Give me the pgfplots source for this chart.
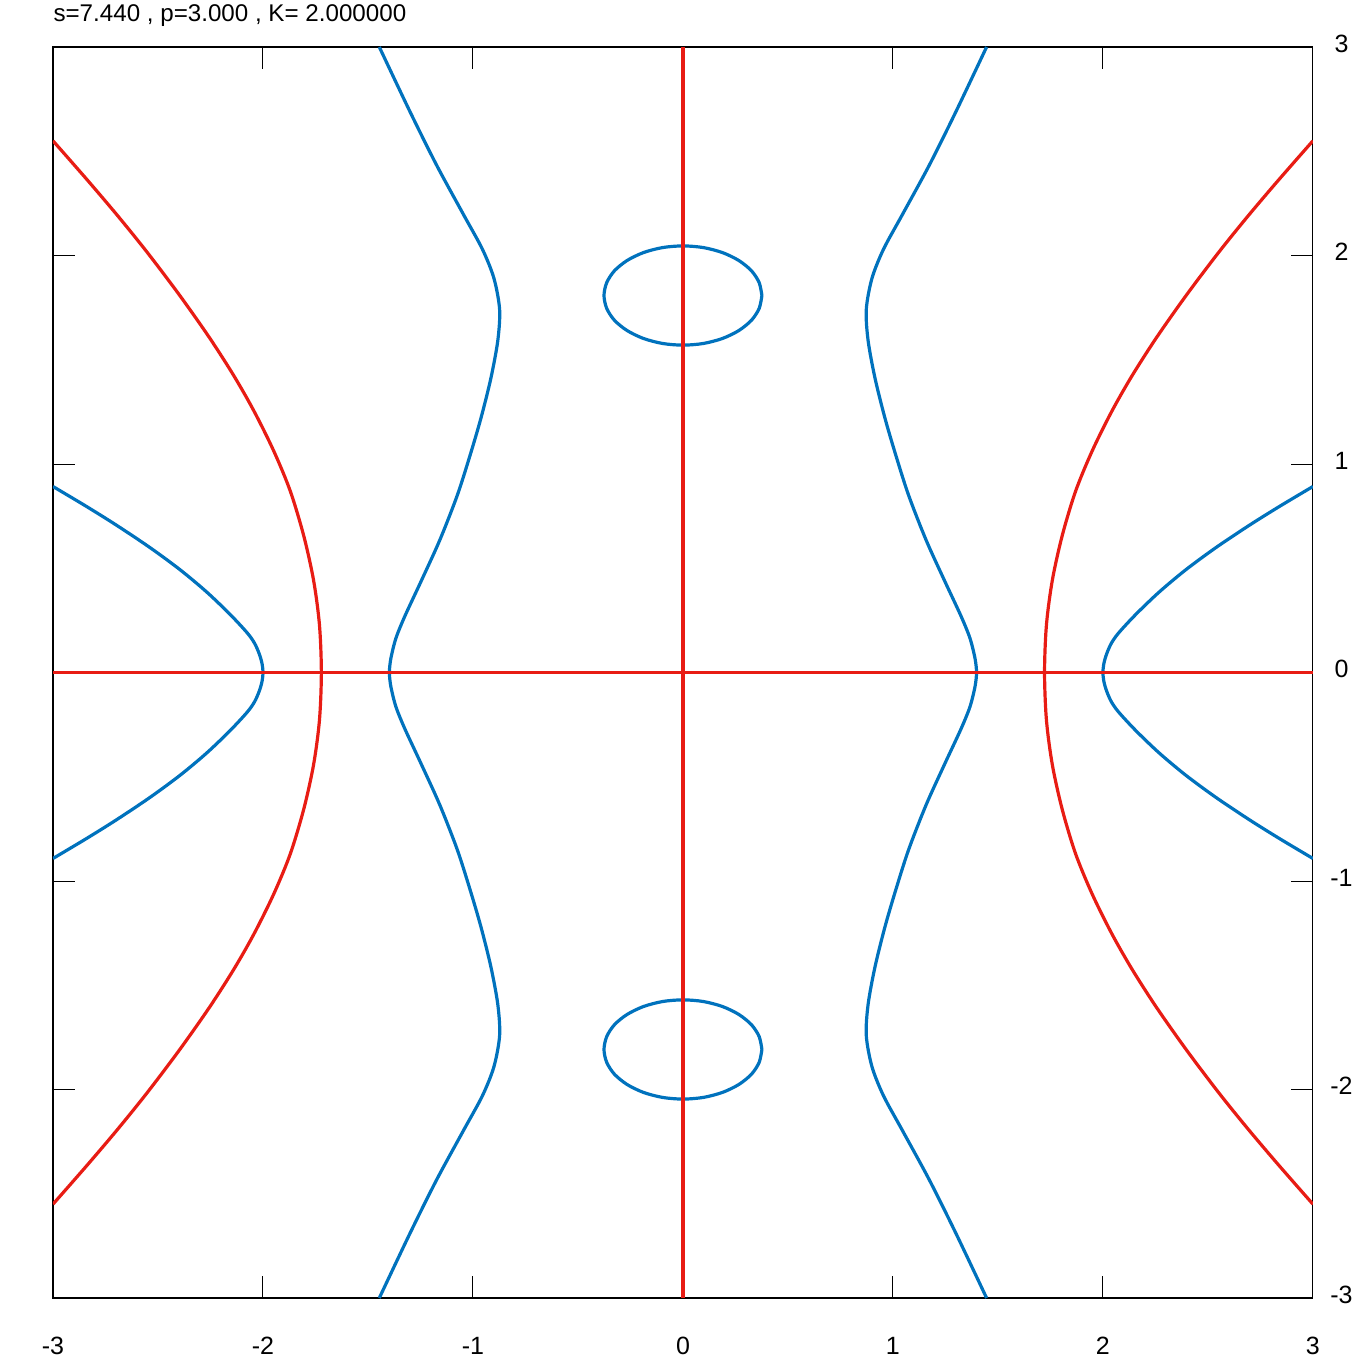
\documentclass[border=0pt]{standalone}
\usepackage{fontspec}
\setmainfont{Liberation Sans}
\usepackage{pgfplots}
\pgfplotsset{compat=1.18}
\definecolor{cblue}{RGB}{0,114,189}
\definecolor{cred}{RGB}{232,28,20}

\begin{document}
\begin{tikzpicture}
\begin{axis}[
    scale only axis,
    width=453.6pt, height=450.4pt,
    xmin=-3, xmax=3, ymin=-3, ymax=3,
    xtick={-3,-2,-1,0,1,2,3},
    ytick={-3,-2,-1,0,1,2,3},
    xticklabels={-3,-2,-1,0,1,2,3},
    yticklabels={-3,-2,-1,0,1,2,3},
    yticklabel pos=right,
    ytick pos=both,
    xtick pos=both,
    tick align=inside,
    major tick length=7.9pt,
    tick style={black, line width=0.35pt},
    axis line style={black, line width=0.4pt},
    ticklabel style={font=\fontsize{9}{10}\selectfont},
    xticklabel style={anchor=center, yshift=-17.3pt},
    yticklabel style={anchor=center, xshift=10.3pt, yshift=1.2pt},
    every axis plot/.append style={line width=1.15pt},
]
% blue contours
\addplot[cblue, smooth] coordinates {
  (-3.000,0.892) (-2.840,0.796) (-2.697,0.706) (-2.538,0.599) (-2.395,0.493)
  (-2.268,0.386) (-2.157,0.279) (-2.075,0.190) (-2.040,0.140) (-2.018,0.090)
  (-2.005,0.045) (-2.000,0)
  (-2.005,-0.045) (-2.018,-0.090) (-2.040,-0.140) (-2.075,-0.190) (-2.157,-0.279)
  (-2.268,-0.386) (-2.395,-0.493)
  (-2.538,-0.599) (-2.697,-0.706) (-2.840,-0.796) (-3.000,-0.892)
};
\addplot[cblue, smooth] coordinates {
  (3.000,0.892) (2.840,0.796) (2.697,0.706) (2.538,0.599) (2.395,0.493)
  (2.268,0.386) (2.157,0.279) (2.075,0.190) (2.040,0.140) (2.018,0.090)
  (2.005,0.045) (2.000,0)
  (2.005,-0.045) (2.018,-0.090) (2.040,-0.140) (2.075,-0.190) (2.157,-0.279)
  (2.268,-0.386) (2.395,-0.493)
  (2.538,-0.599) (2.697,-0.706) (2.840,-0.796) (3.000,-0.892)
};
\addplot[cblue, smooth] coordinates {
  (-1.446,3.0) (-1.300,2.690) (-1.173,2.433) (-1.046,2.198) (-0.955,2.030)
  (-0.900,1.890) (-0.873,1.740) (-0.882,1.590) (-0.915,1.410) (-0.962,1.220)
  (-1.014,1.041) (-1.075,0.849) (-1.158,0.635) (-1.245,0.442) (-1.324,0.271)
  (-1.367,0.164) (-1.391,0.067) (-1.398,0)
  (-1.391,-0.067) (-1.367,-0.164) (-1.324,-0.271) (-1.245,-0.442) (-1.158,-0.635)
  (-1.075,-0.849) (-1.014,-1.041) (-0.962,-1.220) (-0.915,-1.410) (-0.882,-1.590)
  (-0.873,-1.740) (-0.900,-1.890) (-0.955,-2.030) (-1.046,-2.198) (-1.173,-2.433)
  (-1.300,-2.690) (-1.446,-3.0)
};
\addplot[cblue, smooth] coordinates {
  (1.446,3.0) (1.300,2.690) (1.173,2.433) (1.046,2.198) (0.955,2.030)
  (0.900,1.890) (0.873,1.740) (0.882,1.590) (0.915,1.410) (0.962,1.220)
  (1.014,1.041) (1.075,0.849) (1.158,0.635) (1.245,0.442) (1.324,0.271)
  (1.367,0.164) (1.391,0.067) (1.398,0)
  (1.391,-0.067) (1.367,-0.164) (1.324,-0.271) (1.245,-0.442) (1.158,-0.635)
  (1.075,-0.849) (1.014,-1.041) (0.962,-1.220) (0.915,-1.410) (0.882,-1.590)
  (0.873,-1.740) (0.900,-1.890) (0.955,-2.030) (1.046,-2.198) (1.173,-2.433)
  (1.300,-2.690) (1.446,-3.0)
};
% ovals
\addplot[cblue, smooth] coordinates {
  (0.376,1.808) (0.363,1.870) (0.326,1.927) (0.266,1.976) (0.188,2.014) (0.097,2.038) (0,2.046)
  (-0.097,2.038) (-0.188,2.014) (-0.266,1.976) (-0.326,1.927) (-0.363,1.870) (-0.376,1.808)
  (-0.363,1.746) (-0.326,1.689) (-0.266,1.640) (-0.188,1.602) (-0.097,1.578) (0,1.570)
  (0.097,1.578) (0.188,1.602) (0.266,1.640) (0.326,1.689) (0.363,1.746) (0.376,1.808)
};
\addplot[cblue, smooth] coordinates {
  (0.376,-1.808) (0.363,-1.870) (0.326,-1.927) (0.266,-1.976) (0.188,-2.014) (0.097,-2.038) (0,-2.046)
  (-0.097,-2.038) (-0.188,-2.014) (-0.266,-1.976) (-0.326,-1.927) (-0.363,-1.870) (-0.376,-1.808)
  (-0.363,-1.746) (-0.326,-1.689) (-0.266,-1.640) (-0.188,-1.602) (-0.097,-1.578) (0,-1.570)
  (0.097,-1.578) (0.188,-1.602) (0.266,-1.640) (0.326,-1.689) (0.363,-1.746) (0.376,-1.808)
};
% red contours
\addplot[cred, smooth] coordinates {
  (-3.000,2.550) (-2.833,2.358) (-2.689,2.187) (-2.552,2.016) (-2.399,1.812)
  (-2.257,1.609) (-2.141,1.427) (-2.044,1.256) (-1.949,1.063) (-1.870,0.870)
  (-1.806,0.656) (-1.759,0.442) (-1.731,0.228) (-1.722,0)
  (-1.731,-0.228) (-1.759,-0.442) (-1.806,-0.656) (-1.870,-0.870) (-1.949,-1.063)
  (-2.044,-1.256) (-2.141,-1.427) (-2.257,-1.609) (-2.399,-1.812) (-2.552,-2.016)
  (-2.689,-2.187) (-2.833,-2.358) (-3.000,-2.550)
};
\addplot[cred, smooth] coordinates {
  (3.000,2.550) (2.833,2.358) (2.689,2.187) (2.552,2.016) (2.399,1.812)
  (2.257,1.609) (2.141,1.427) (2.044,1.256) (1.949,1.063) (1.870,0.870)
  (1.806,0.656) (1.759,0.442) (1.731,0.228) (1.722,0)
  (1.731,-0.228) (1.759,-0.442) (1.806,-0.656) (1.870,-0.870) (1.949,-1.063)
  (2.044,-1.256) (2.141,-1.427) (2.257,-1.609) (2.399,-1.812) (2.552,-2.016)
  (2.689,-2.187) (2.833,-2.358) (3.000,-2.550)
};
\addplot[cred] coordinates {(-3,0) (3,0)};
\addplot[cred] coordinates {(0,-3) (0,3)};
\end{axis}
\node[anchor=base west, font=\fontsize{8.7}{10}\selectfont, inner sep=0pt]
  at ([yshift=9.1pt]current axis.north west) {s=7.440 , p=3.000 , K= 2.000000};
\path ([xshift=-19.08pt,yshift=-24.48pt]current axis.south west)
  rectangle ([xshift=19.08pt,yshift=16.92pt]current axis.north east);
\end{tikzpicture}
\end{document}
